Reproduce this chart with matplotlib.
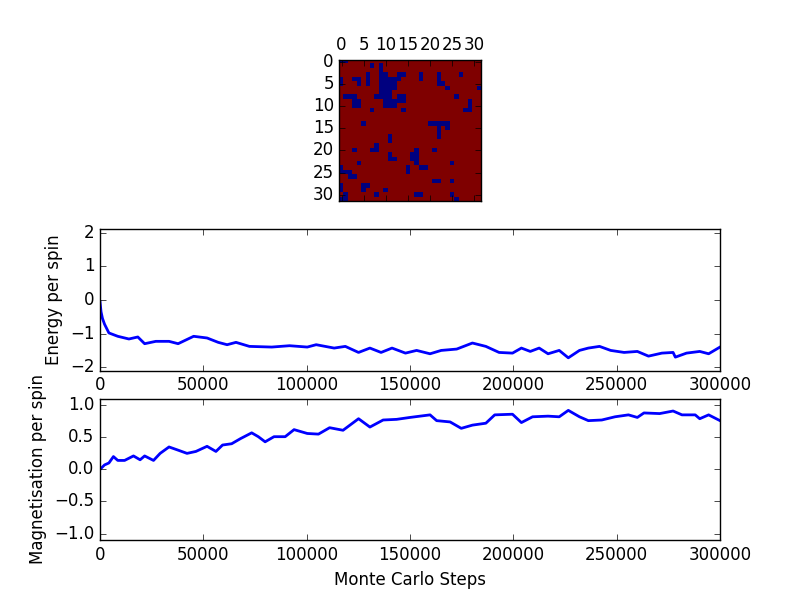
import matplotlib
matplotlib.use("Agg")
import matplotlib.pyplot as plt
import numpy as np

plt.style.use("classic")

# spin lattice (32 x 32): columns holding a down spin (-1) for each row,
# every other site is +1
L = 32
down_cols = [
    [0, 1],
    [7, 9],
    [9],
    [6, 9, 10, 13, 14, 18, 22, 27],
    [0, 3, 4, 6, 9, 10, 11, 12, 13, 18, 22],
    [0, 4, 6, 9, 10, 11, 12, 22, 23],
    [9, 10, 11, 12, 24, 31],
    [9, 10, 11],
    [1, 2, 3, 8, 9, 10, 11, 13, 14, 26],
    [3, 4, 10, 11, 12, 13, 14, 29],
    [3, 4, 10, 11, 12, 29],
    [7, 14, 28, 29],
    [],
    [],
    [5, 20, 21, 22, 23, 24],
    [22, 24],
    [22],
    [11, 22],
    [11],
    [8],
    [3, 7, 8, 17, 21],
    [11, 16, 17],
    [11, 12, 16, 17],
    [4, 17, 25],
    [0, 15, 18, 19],
    [0, 1, 2, 15],
    [2, 3],
    [21, 22, 25],
    [0, 5, 6],
    [0, 5, 10],
    [1, 8, 17, 18, 25],
    [0, 1, 26],
]

# energy per spin trace
energy_steps = [0, 500, 1200, 2200, 4300, 8600, 14000, 18300, 21600, 27000,
                33400, 37800, 45300, 51800, 57200, 61500, 65800, 72300, 83100,
                91700, 100300, 104600, 113300, 118700, 125100, 130600, 136000,
                141300, 147800, 153200, 159700, 165100, 172600, 180200, 186700,
                193100, 199600, 203900, 208200, 212500, 216800, 222200, 226600,
                232000, 236300, 241700, 247100, 253600, 260000, 265400, 271900,
                277300, 278400, 283800, 290200, 294500, 300000]
energy = [-0.05, -0.35, -0.55, -0.72, -0.98, -1.08, -1.16, -1.10, -1.30, -1.23,
          -1.23, -1.30, -1.08, -1.13, -1.26, -1.33, -1.26, -1.38, -1.40,
          -1.36, -1.40, -1.33, -1.43, -1.38, -1.56, -1.43, -1.56,
          -1.43, -1.58, -1.50, -1.60, -1.50, -1.46, -1.28, -1.38,
          -1.56, -1.58, -1.43, -1.53, -1.43, -1.60, -1.50, -1.72,
          -1.50, -1.43, -1.38, -1.50, -1.56, -1.53, -1.67, -1.58,
          -1.56, -1.70, -1.58, -1.53, -1.60, -1.40]

# magnetisation per spin trace
mag_steps = [0, 2200, 4300, 6500, 8600, 11900, 16200, 19400, 21600, 25900,
             29100, 33400, 37800, 42100, 46400, 51800, 56100, 59300, 63700,
             68000, 73400, 76600, 79900, 84200, 89600, 93900, 100300, 105700,
             111100, 117600, 125100, 130600, 137000, 143500, 150000, 159700,
             162900, 169400, 174800, 180200, 186700, 191000, 199600, 203900,
             209300, 216800, 222200, 226600, 232000, 236300, 242800, 249200,
             255700, 260000, 263200, 270800, 277300, 281600, 288000, 290200,
             294500, 300000]
magnet = [0.0, 0.07, 0.10, 0.20, 0.14, 0.14, 0.21, 0.15, 0.21, 0.14,
          0.25, 0.35, 0.30, 0.25, 0.28, 0.36, 0.28, 0.38, 0.40,
          0.48, 0.57, 0.51, 0.43, 0.51, 0.51, 0.62, 0.56, 0.55,
          0.65, 0.61, 0.79, 0.66, 0.77, 0.78, 0.81, 0.85,
          0.76, 0.74, 0.64, 0.69, 0.72, 0.85, 0.86, 0.73,
          0.82, 0.83, 0.82, 0.92, 0.82, 0.76, 0.77, 0.82,
          0.85, 0.81, 0.88, 0.87, 0.91, 0.85, 0.85, 0.79,
          0.85, 0.76]

lattice = np.ones((L, L))
for row, cols in enumerate(down_cols):
    for c in cols:
        lattice[row, c] = -1

fig = plt.figure(figsize=(8, 6), dpi=100)

ax1 = fig.add_subplot(311)
ax1.matshow(lattice, cmap="jet", interpolation="nearest", vmin=-1, vmax=1)
ax1.set_xticks(range(0, 31, 5))
ax1.set_yticks(range(0, 31, 5))

# the real trace is very noisy, so a thicker line gives the same weight
ax2 = fig.add_subplot(312)
ax2.plot(energy_steps, energy, "b-", linewidth=2)
ax2.set_xlim(0, 300000)
ax2.set_ylim(-2.1, 2.1)
ax2.set_ylabel("Energy per spin")

ax3 = fig.add_subplot(313)
ax3.plot(mag_steps, magnet, "b-", linewidth=2)
ax3.set_xlim(0, 300000)
ax3.set_ylim(-1.1, 1.1)
ax3.set_ylabel("Magnetisation per spin")
ax3.set_xlabel("Monte Carlo Steps")

fig.savefig("out.png", dpi=100, facecolor="white")
